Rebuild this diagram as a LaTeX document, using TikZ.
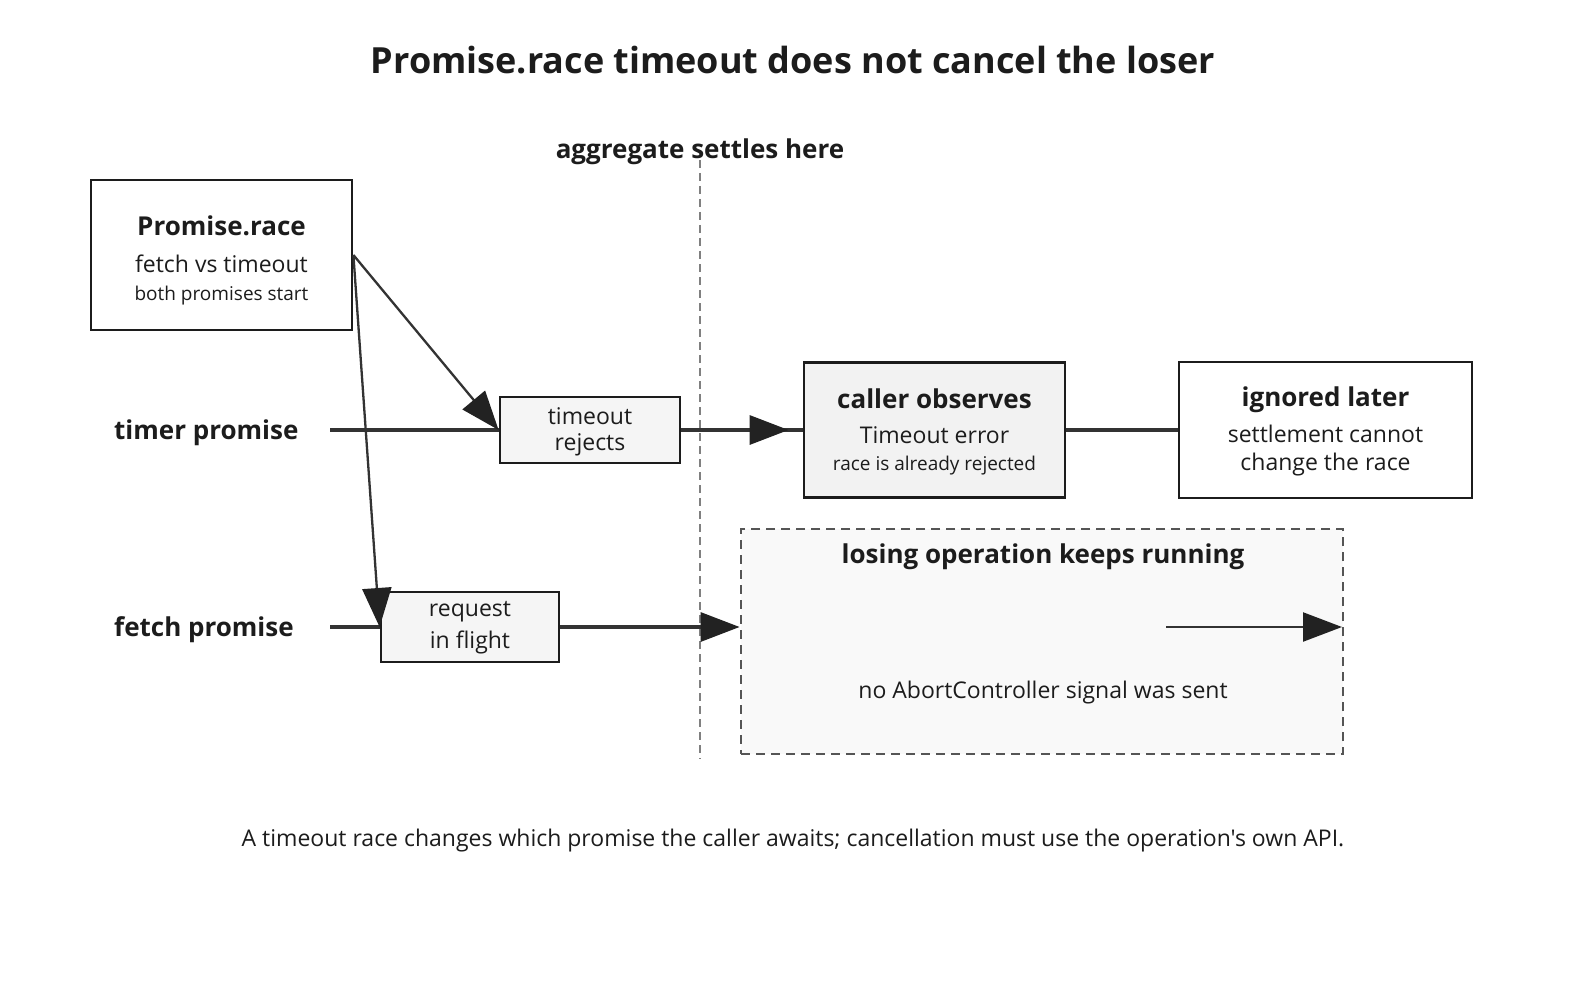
\documentclass[tikz,border=0pt]{standalone}
\usepackage{fontspec}
\setmainfont{Open Sans}[Ligatures=TeXOff]
\usetikzlibrary{arrows.meta,positioning}
\definecolor{ink}{HTML}{1C1C1C}
\definecolor{line}{HTML}{333333}
\definecolor{head}{HTML}{222222}
\definecolor{fillA}{HTML}{F5F5F5}
\definecolor{fillB}{HTML}{F2F2F2}
\definecolor{fillC}{HTML}{F9F9F9}
\definecolor{dashc}{HTML}{555555}
\definecolor{settlec}{HTML}{808080}
\tikzset{
  fs/.style={font=\fontsize{#1}{#1}\selectfont},
  fsb/.style={font=\fontsize{#1}{#1}\selectfont\bfseries},
  boxw/.style={draw=ink, line width=2.8pt, fill=white, inner sep=0pt},
  boxg/.style={draw=ink, line width=2.8pt, fill=fillA, inner sep=0pt},
  txt/.style={inner sep=0pt, text=ink},
  wire/.style={draw=line, line width=3.2pt},
  diag/.style={draw=line, line width=2.3pt, -{Triangle[length=39pt,width=29pt,color=head]}},
  arr/.style={draw=line, line width=3.2pt, -{Triangle[length=39pt,width=29pt,color=head]}},
}
\begin{document}
\begin{tikzpicture}[x=1pt,y=-1pt]
\useasboundingbox[fill=white] (0,0) rectangle (1586,992);
% title
\node[txt, fsb=36] (title) at (793,60) {Promise.race timeout does not cancel the loser};
% settle line
\node[txt, fsb=26] (settle) at (700,152) {aggregate settles here};
\coordinate (settleTop) at (700,160);
\coordinate (settleBot) at (700,759);
\draw[settlec, line width=2.3pt, dash pattern=on 8pt off 5pt] (settleTop) -- (settleBot);
% dashed region
\node[draw=dashc, line width=2.8pt, dash pattern=on 9pt off 6pt, fill=fillC, minimum width=602pt, minimum height=225pt, inner sep=0pt] (lose) at (1042,641.5) {};
\node[txt, fsb=26] (loseT) at (1043,557) {losing operation keeps running};
\node[txt, fs=23] (loseN) at (1043,693) {no AbortController signal was sent};
\coordinate (runA) at (1166,627);
\coordinate (runB) at (1342,627);
\draw[draw=line, line width=2.3pt, -{Triangle[length=39pt,width=29pt,color=head]}] (runA) -- (runB);
% Promise.race box
\node[boxw, minimum width=261pt, minimum height=150pt] (race) at (221.5,255) {};
\node[txt, fsb=26] at (221.5,226) {Promise.race};
\node[txt, fs=23] at (221.5,264) {fetch vs timeout};
\node[txt, fs=19] at (221.5,296) {both promises start};
% rows
\node[txt, fsb=26, anchor=west] (timerL) at (114,433) {timer promise};
\node[txt, fsb=26, anchor=west] (fetchL) at (114,630) {fetch promise};
\coordinate (timerS) at (330,430);
\coordinate (fetchS) at (330,627);
% timeout rejects
\node[boxg, minimum width=180pt, minimum height=66pt] (timeout) at (590,430) {};
\node[txt, fs=23] at (590,416) {timeout};
\node[txt, fs=23] at (590,445) {rejects};
% request in flight
\node[boxg, minimum width=178pt, minimum height=70pt] (req) at (470,627) {};
\node[txt, fs=23] at (470,612) {request};
\node[txt, fs=23] at (470,642) {in flight};
% caller observes
\node[boxw, fill=fillB, minimum width=261pt, minimum height=135pt] (caller) at (934.5,430) {};
\node[txt, fsb=26] at (934.5,399) {caller observes};
\node[txt, fs=23] at (934.5,435) {Timeout error};
\node[txt, fs=19] at (934.5,466) {race is already rejected};
% ignored later
\node[boxw, minimum width=293pt, minimum height=136pt] (ign) at (1325.5,430) {};
\node[txt, fsb=26] at (1325.5,400) {ignored later};
\node[txt, fs=23] at (1325.5,434) {settlement cannot};
\node[txt, fs=23] at (1325.5,465) {change the race};
% connectors
\draw[wire] (timerS) -- (timeout.west);
\draw[wire] (fetchS) -- (req.west);
\draw[wire] (timeout.east) -- (caller.west);
\draw[arr] (timeout.east) -- ([xshift=-14pt]caller.west);
\draw[wire] (caller.east) -- (ign.west);
\draw[arr] (req.east) -- (req.east -| lose.west);
\draw[diag] (race.east) -- (timeout.west);
\draw[diag] (race.east) -- (req.west);
% footer
\node[txt, fs=23] (foot) at (793,841) {A timeout race changes which promise the caller awaits; cancellation must use the operation's own API.};
\end{tikzpicture}
\end{document}
